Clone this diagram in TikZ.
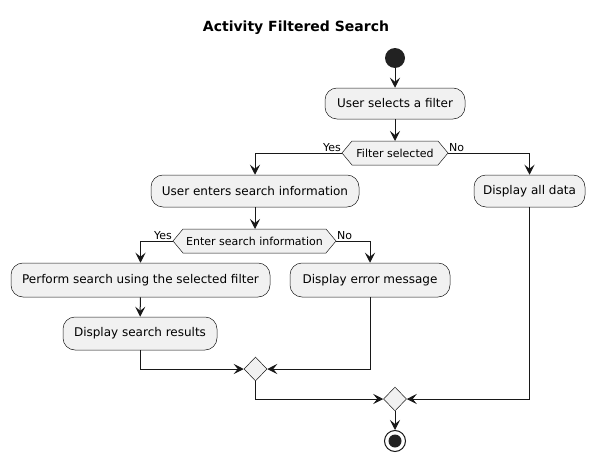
\documentclass[tikz,border=0pt]{standalone}
\usepackage{fontspec}
\setmainfont{DejaVu Sans}
\usetikzlibrary{arrows.meta,shapes.geometric}
\definecolor{boxfill}{HTML}{F1F1F1}
\definecolor{ink}{HTML}{181818}
\definecolor{startfill}{HTML}{222222}
\begin{document}
\begin{tikzpicture}[x=1pt,y=-1pt,
  act/.style={draw=ink, fill=boxfill, rounded corners=12pt, line width=0.5pt, inner sep=0pt, font=\fontsize{12}{14}\selectfont, text=black},
  hex/.style={draw=ink, fill=boxfill, line width=0.5pt},
  merge/.style={diamond, draw=ink, fill=boxfill, line width=0.5pt, inner sep=0pt, minimum width=23pt, minimum height=24pt},
  flow/.style={draw=ink, line width=1pt, -{Stealth[length=10pt,width=10pt,inset=4pt]}},
  lbl/.style={font=\fontsize{11}{13}\selectfont, inner sep=1pt},
  dtext/.style={font=\fontsize{11}{13}\selectfont, inner sep=0pt}
]
\useasboundingbox (0,0) rectangle (595,463);

\node[font=\bfseries\fontsize{14}{16}\selectfont] (title) at (296,28) {Activity Filtered Search};

\node[circle, fill=startfill, minimum size=20pt, inner sep=0pt] (start) at (395,58) {};

\node[act, minimum width=140pt, minimum height=31pt] (a1) at (395,103.5) {User selects a filter};

% decision 1
\draw[hex] (342,153) coordinate (d1w) -- (352,141) -- (438,141) -- (448,153) coordinate (d1e) -- (438,165) -- (352,165) -- cycle;
\coordinate (d1n) at (395,141);
\node[dtext] (d1t) at (395,153) {Filter selected};
\node[lbl, anchor=south east] (yes1) at (d1w) {Yes};
\node[lbl, anchor=south west] (no1) at (d1e) {No};

\node[act, minimum width=208pt, minimum height=32pt] (b1) at (255,191) {User enters search information};
\node[act, minimum width=111pt, minimum height=32pt] (c1) at (529.5,191) {Display all data};

% decision 2
\draw[hex] (173,241) coordinate (d2w) -- (183,229) -- (326,229) -- (336,241) coordinate (d2e) -- (326,253) -- (183,253) -- cycle;
\coordinate (d2n) at (255,229);
\node[dtext] (d2t) at (254.5,241) {Enter search information};
\node[lbl, anchor=south east] (yes2) at (d2w) {Yes};
\node[lbl, anchor=south west] (no2) at (d2e) {No};

\node[act, minimum width=259pt, minimum height=34pt] (p1) at (140.5,280) {Perform search using the selected filter};
\node[act, minimum width=160pt, minimum height=34pt] (e1) at (370,280) {Display error message};
\node[act, minimum width=154pt, minimum height=33pt] (s1) at (140,333.5) {Display search results};

\node[merge] (m1) at (255.5,369) {};
\node[merge] (m2) at (395,399) {};

\node[circle, draw=ink, line width=1pt, fill=white, minimum size=21pt, inner sep=0pt] (end) at (395,441) {};
\fill[startfill] (end.center) circle (6.5pt);

\draw[flow] (start) -- (a1);
\draw[flow] (a1) -- (d1n);
\draw[flow] (d1w) -| (b1);
\draw[flow] (d1e) -| (c1);
\draw[flow] (b1) -- (d2n);
\draw[flow] (d2w) -| (p1);
\draw[flow] (d2e) -| (e1);
\draw[flow] (p1) -- (s1);
\draw[flow] (s1) |- (m1);
\draw[flow] (e1) |- (m1);
\draw[flow] (m1) |- (m2);
\draw[flow] (c1) |- (m2);
\draw[flow] (m2) -- (end);
\end{tikzpicture}
\end{document}
